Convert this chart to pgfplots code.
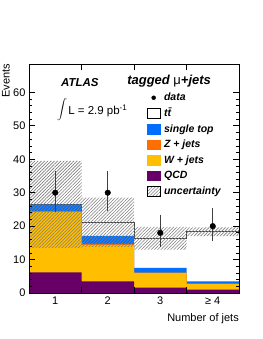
\documentclass[border=0pt]{standalone}
\usepackage{fontspec}
\setmainfont{Liberation Sans}
\usepackage{pgfplots}
\pgfplotsset{compat=1.18}
\usetikzlibrary{patterns.meta}
\definecolor{stblue}{RGB}{0,110,255}
\definecolor{zorange}{RGB}{255,110,0}
\definecolor{wyellow}{RGB}{255,190,0}
\definecolor{qcdpurple}{RGB}{102,0,102}
\definecolor{hatchgray}{RGB}{125,125,125}
\definecolor{ttline}{RGB}{70,70,70}
\begin{document}
\begin{tikzpicture}
\useasboundingbox (0,0) rectangle (262pt,339pt);
\begin{axis}[
  at={(29pt,46pt)}, anchor=south west, scale only axis,
  width=210pt, height=229pt,
  xmin=0.5, xmax=4.5, ymin=0, ymax=68.5,
  xtick={1.5,2.5,3.5}, xticklabels={},
  extra x ticks={1,2,3,4}, extra x tick labels={1,2,3,≥ 4},
  extra x tick style={major tick length=0pt},
  ytick={0,10,...,60}, minor y tick num=4,
  major tick length=6pt, minor tick length=3pt,
  tick style={black, line width=0.7pt},
  axis line style={line width=0.9pt},
  tick label style={font=\fontsize{11}{13}\selectfont},
  /pgf/number format/assume math mode=true,
  axis on top,
  legend style={at={(rel axis cs:0.548,0.884)}, anchor=north west, draw=none, fill=none,
    font=\bfseries\itshape\fontsize{10.5}{12}\selectfont,
    nodes={inner sep=0pt, text height=8pt, text depth=2pt},
    row sep=5.5pt,
    /tikz/every odd column/.append style={column sep=3pt}},
  legend cell align=left,
]
% legend keys
\addlegendimage{legend image code/.code={\path[draw=none,fill=none] (0pt,-4.75pt) rectangle (13pt,4.75pt); \fill[black] (6pt,0pt) circle (2pt);}}
\addlegendentry{data}
\addlegendimage{legend image code/.code={\draw[fill=white, draw=black, line width=0.8pt] (0pt,-4.75pt) rectangle (13pt,4.75pt);}}
\addlegendentry{t\=t}
\addlegendimage{legend image code/.code={\fill[stblue] (0pt,-4.75pt) rectangle (13pt,4.75pt);}}
\addlegendentry{single top}
\addlegendimage{legend image code/.code={\fill[zorange] (0pt,-4.75pt) rectangle (13pt,4.75pt);}}
\addlegendentry{Z + jets}
\addlegendimage{legend image code/.code={\fill[wyellow] (0pt,-4.75pt) rectangle (13pt,4.75pt);}}
\addlegendentry{W + jets}
\addlegendimage{legend image code/.code={\fill[qcdpurple] (0pt,-4.75pt) rectangle (13pt,4.75pt);}}
\addlegendentry{QCD}
\addlegendimage{legend image code/.code={\path[pattern={Lines[angle=45,distance=2.3pt,line width=0.6pt]}, pattern color=hatchgray] (0pt,-4.75pt) rectangle (13pt,4.75pt);}}
\addlegendentry{uncertainty}

% cumulative stack (ttbar on top)
\addplot[forget plot, const plot mark left, fill=white, draw=ttline, line width=0.9pt]
  coordinates {(0.5,26.5) (1.5,21.1) (2.5,16.3) (3.5,18.3) (4.5,18.3)} \closedcycle;
\addplot[forget plot, const plot mark left, fill=stblue, draw=none]
  coordinates {(0.5,26.4) (1.5,17.1) (2.5,7.5) (3.5,3.5) (4.5,3.5)} \closedcycle;
\addplot[forget plot, const plot mark left, fill=zorange, draw=none]
  coordinates {(0.5,24.5) (1.5,14.7) (2.5,6.1) (3.5,2.8) (4.5,2.8)} \closedcycle;
\addplot[forget plot, const plot mark left, fill=wyellow, draw=none]
  coordinates {(0.5,24.2) (1.5,14.3) (2.5,6.0) (3.5,2.7) (4.5,2.7)} \closedcycle;
\addplot[forget plot, const plot mark left, fill=qcdpurple, draw=none]
  coordinates {(0.5,6.2) (1.5,3.5) (2.5,1.6) (3.5,1.0) (4.5,1.0)} \closedcycle;

% uncertainty band
\addplot[forget plot, draw=none, pattern={Lines[angle=45,distance=2.3pt,line width=0.6pt]}, pattern color=hatchgray]
  coordinates {(0.5,13.5) (1.5,13.5) (1.5,13.8) (2.5,13.8) (2.5,13.0) (3.5,13.0) (3.5,17.0) (4.5,17.0)
               (4.5,19.6) (3.5,19.6) (3.5,19.8) (2.5,19.8) (2.5,28.5) (1.5,28.5) (1.5,39.5) (0.5,39.5)} -- cycle;

% data
\addplot[forget plot, only marks, mark=*, mark size=2.8pt, black,
  error bars/.cd, y dir=both, y explicit, error mark=none,
  error bar style={line width=0.8pt, color=black!75}]
  coordinates {(1,30) += (0,6.5) -= (0,5.7)
               (2,30) += (0,6.5) -= (0,5.5)
               (3,18) += (0,5.3) -= (0,4.2)
               (4,20) += (0,5.5) -= (0,4.5)};

\node[anchor=west, inner sep=0pt, font=\bfseries\itshape\fontsize{11.5}{13}\selectfont] at (rel axis cs:0.152,0.921) {ATLAS};
\node[anchor=west, inner sep=0pt, font=\bfseries\itshape\fontsize{13}{15}\selectfont] at (rel axis cs:0.467,0.926) {tagged {\mdseries\upshape μ}+jets};
\node[anchor=center, inner sep=0pt, font=\fontsize{10.5}{12}\selectfont] at (rel axis cs:0.158,0.8) {$\displaystyle\int$};
\node[anchor=west, inner sep=0pt, font=\fontsize{11.5}{13}\selectfont] at (rel axis cs:0.186,0.795) {L = 2.9 pb\textsuperscript{-1}};
\end{axis}
\node[rotate=90, anchor=south east, inner sep=0pt, font=\fontsize{11}{13}\selectfont] at (10pt,275pt) {Events};
\node[anchor=base east, inner sep=0pt, font=\fontsize{11}{13}\selectfont] at (239pt,17pt) {Number of jets};
\end{tikzpicture}
\end{document}
